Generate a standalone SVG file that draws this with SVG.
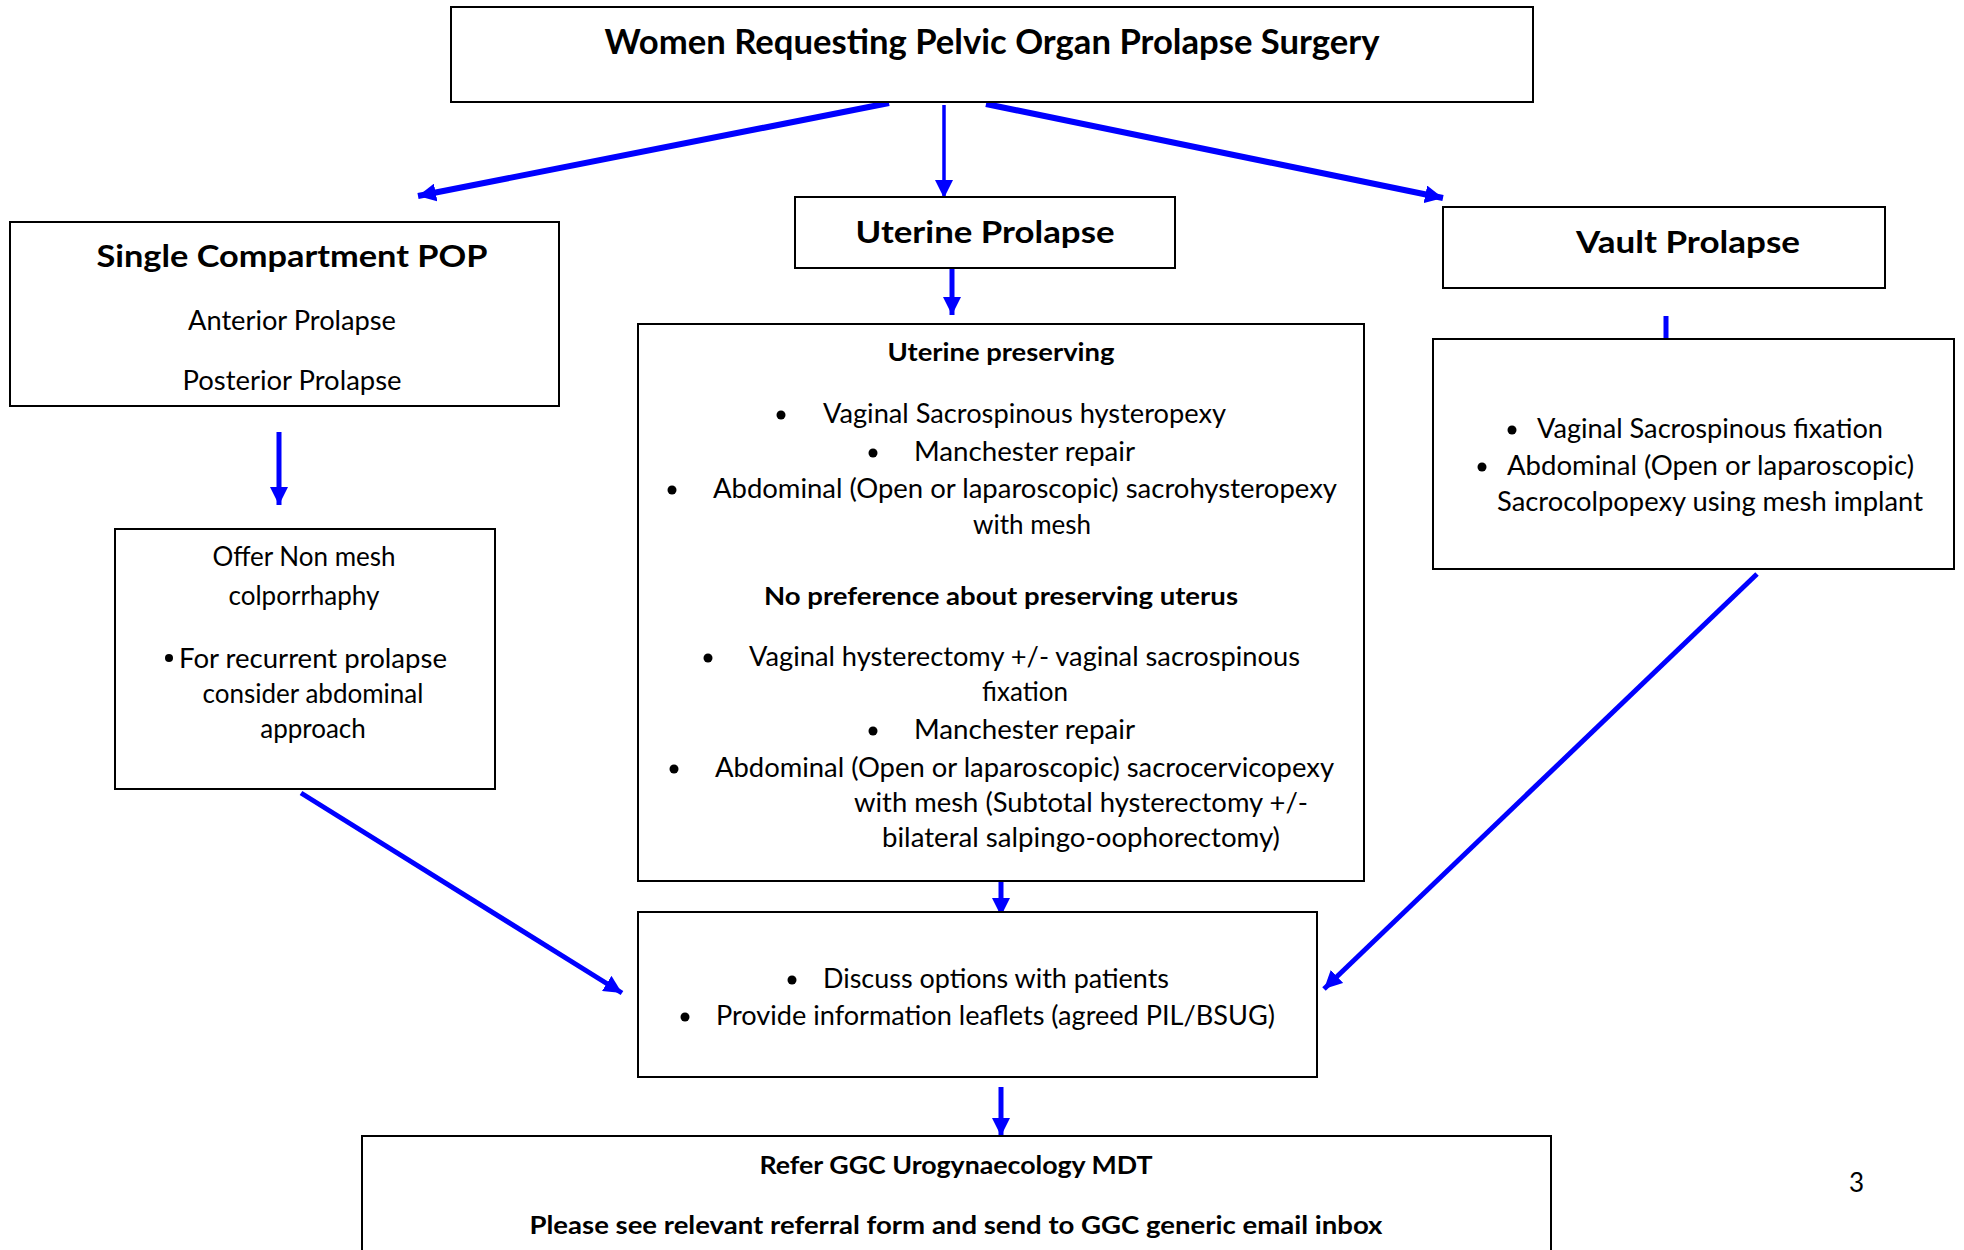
<svg xmlns="http://www.w3.org/2000/svg" width="1964" height="1250" viewBox="0 0 1964 1250">
<style>
.box{fill:#fff;stroke:#000;stroke-width:2}
text{font-family:Lato,"Liberation Sans",sans-serif;fill:#000}
.h{font-weight:bold;font-size:34px}
.t{font-weight:bold;font-size:31px}
.s{font-weight:bold;font-size:25px}
.r{font-size:26px}
.c{text-anchor:middle}
.a{stroke:#0000FF;fill:none}
</style>
<defs>
<marker id="ah" markerUnits="userSpaceOnUse" markerWidth="20" markerHeight="18" refX="18" refY="9" orient="auto">
<path d="M0,0 L18,9 L0,18 Z" fill="#0000FF"/>
</marker>
</defs>
<rect width="1964" height="1250" fill="#fff"/>
<g id="connectors">
<line class="a" stroke-width="6" x1="889" y1="103" x2="418" y2="196" marker-end="url(#ah)"/>
<line class="a" stroke-width="3.5" x1="944" y1="105" x2="944" y2="198" marker-end="url(#ah)"/>
<line class="a" stroke-width="6" x1="986" y1="104" x2="1443" y2="198" marker-end="url(#ah)"/>
<line class="a" stroke-width="5" x1="279" y1="432" x2="279" y2="505" marker-end="url(#ah)"/>
<line class="a" stroke-width="5" x1="952" y1="268" x2="952" y2="315" marker-end="url(#ah)"/>
<line class="a" stroke-width="5" x1="301" y1="793" x2="622" y2="993" marker-end="url(#ah)"/>
<line class="a" stroke-width="5" x1="1001" y1="870" x2="1001" y2="916" marker-end="url(#ah)"/>
<line class="a" stroke-width="5" x1="1666" y1="316" x2="1666" y2="339"/>
<line class="a" stroke-width="5" x1="1757" y1="574" x2="1324" y2="989" marker-end="url(#ah)"/>
<line class="a" stroke-width="5" x1="1001" y1="1087" x2="1001" y2="1136" marker-end="url(#ah)"/>
</g>
<g id="top">
<rect class="box" x="451" y="7" width="1082" height="95"/>
<text class="h c" x="992" y="54" textLength="775" lengthAdjust="spacingAndGlyphs">Women Requesting Pelvic Organ Prolapse Surgery</text>
</g>
<g id="single">
<rect class="box" x="10" y="222" width="549" height="184"/>
<text class="t c" x="292" y="267" textLength="391" lengthAdjust="spacingAndGlyphs">Single Compartment POP</text>
<text class="r c" x="292" y="330" textLength="208" lengthAdjust="spacingAndGlyphs">Anterior Prolapse</text>
<text class="r c" x="292" y="390" textLength="219" lengthAdjust="spacingAndGlyphs">Posterior Prolapse</text>
</g>
<g id="nonmesh">
<rect class="box" x="115" y="529" width="380" height="260"/>
<text class="r c" x="304" y="566">Offer Non mesh</text>
<text class="r c" x="304" y="605">colporrhaphy</text>
<circle cx="169" cy="658" r="4"/>
<text class="r" x="179" y="668" textLength="268" lengthAdjust="spacingAndGlyphs">For recurrent prolapse</text>
<text class="r c" x="313" y="703">consider abdominal</text>
<text class="r c" x="313" y="738">approach</text>
</g>
<g id="uterine">
<rect class="box" x="795" y="197" width="380" height="71"/>
<text class="t c" x="985" y="243" textLength="259" lengthAdjust="spacingAndGlyphs">Uterine Prolapse</text>
</g>
<g id="uterine-options">
<rect class="box" x="638" y="324" width="726" height="557"/>
<text class="s c" x="1001" y="361" textLength="227" lengthAdjust="spacingAndGlyphs">Uterine preserving</text>
<circle cx="781" cy="415" r="4.5"/>
<text class="r" x="823" y="423" textLength="403" lengthAdjust="spacingAndGlyphs">Vaginal Sacrospinous hysteropexy</text>
<circle cx="873" cy="453" r="4.5"/>
<text class="r" x="914" y="461" textLength="221" lengthAdjust="spacingAndGlyphs">Manchester repair</text>
<circle cx="672" cy="490" r="4.5"/>
<text class="r" x="713" y="498" textLength="624" lengthAdjust="spacingAndGlyphs">Abdominal (Open or laparoscopic) sacrohysteropexy</text>
<text class="r c" x="1032" y="534">with mesh</text>
<text class="s c" x="1001" y="605" textLength="474" lengthAdjust="spacingAndGlyphs">No preference about preserving uterus</text>
<circle cx="708" cy="658" r="4.5"/>
<text class="r" x="749" y="666" textLength="551" lengthAdjust="spacingAndGlyphs">Vaginal hysterectomy +/- vaginal sacrospinous</text>
<text class="r c" x="1025" y="701">fixation</text>
<circle cx="873" cy="731" r="4.5"/>
<text class="r" x="914" y="739" textLength="221" lengthAdjust="spacingAndGlyphs">Manchester repair</text>
<circle cx="674" cy="769" r="4.5"/>
<text class="r" x="715" y="777" textLength="619" lengthAdjust="spacingAndGlyphs">Abdominal (Open or laparoscopic) sacrocervicopexy</text>
<text class="r" x="854" y="812" textLength="454" lengthAdjust="spacingAndGlyphs">with mesh (Subtotal hysterectomy +/-</text>
<text class="r" x="882" y="847" textLength="398" lengthAdjust="spacingAndGlyphs">bilateral salpingo-oophorectomy)</text>
</g>
<g id="vault">
<rect class="box" x="1443" y="207" width="442" height="81"/>
<text class="t c" x="1688" y="253" textLength="224" lengthAdjust="spacingAndGlyphs">Vault Prolapse</text>
</g>
<g id="vault-options">
<rect class="box" x="1433" y="339" width="521" height="230"/>
<circle cx="1512" cy="430" r="4.5"/>
<text class="r" x="1537" y="438" textLength="346" lengthAdjust="spacingAndGlyphs">Vaginal Sacrospinous fixation</text>
<circle cx="1482" cy="467" r="4.5"/>
<text class="r" x="1507" y="475" textLength="407" lengthAdjust="spacingAndGlyphs">Abdominal (Open or laparoscopic)</text>
<text class="r" x="1497" y="511" textLength="426" lengthAdjust="spacingAndGlyphs">Sacrocolpopexy using mesh implant</text>
</g>
<g id="discuss">
<rect class="box" x="638" y="912" width="679" height="165"/>
<circle cx="792" cy="980" r="4.5"/>
<text class="r" x="823" y="988" textLength="346" lengthAdjust="spacingAndGlyphs">Discuss options with patients</text>
<circle cx="685" cy="1017" r="4.5"/>
<text class="r" x="716" y="1025" textLength="559" lengthAdjust="spacingAndGlyphs">Provide information leaflets (agreed PIL/BSUG)</text>
</g>
<g id="refer">
<rect class="box" x="362" y="1136" width="1189" height="130"/>
<text class="s c" x="956" y="1174" textLength="393" lengthAdjust="spacingAndGlyphs">Refer GGC Urogynaecology MDT</text>
<text class="s c" x="956" y="1234" textLength="853" lengthAdjust="spacingAndGlyphs">Please see relevant referral form and send to GGC generic email inbox</text>
</g>
<text class="r" x="1849" y="1192">3</text>
</svg>
